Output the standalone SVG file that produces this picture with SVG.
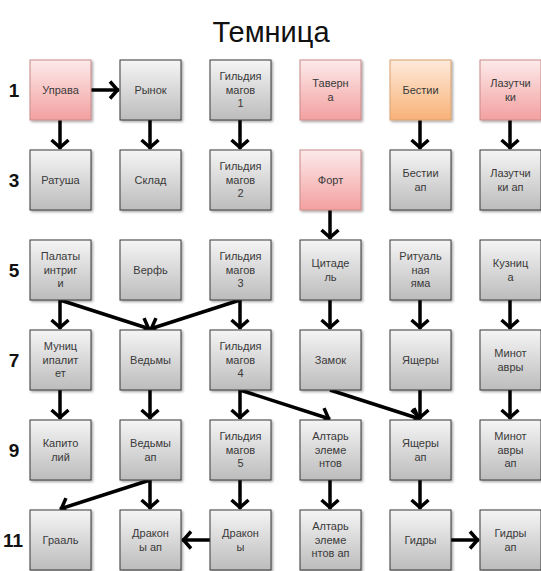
<svg xmlns="http://www.w3.org/2000/svg" width="541" height="571" viewBox="0 0 541 571">
<style>
.box{stroke-width:1}
.g{fill:url(#gGray);stroke:#3a3a3a}
.p{fill:url(#gPink);stroke:#c98a8a}
.o{fill:url(#gOrange);stroke:#d9a070}
.t{font-family:"Liberation Sans",Arial,sans-serif;font-size:11px;fill:#3a3a3a;text-anchor:middle}
.row{font-family:"Liberation Sans",Arial,sans-serif;font-size:19px;font-weight:bold;fill:#111;text-anchor:middle}
.title{font-family:"Liberation Sans",Arial,sans-serif;font-size:29px;fill:#111;text-anchor:middle}
.c line{stroke:#000;stroke-width:3.5;marker-end:url(#arr)}
</style>
<defs>
<linearGradient id="gGray" x1="0" y1="0" x2="0" y2="1"><stop offset="0" stop-color="#f5f5f5"/><stop offset="1" stop-color="#bcbcbc"/></linearGradient>
<linearGradient id="gPink" x1="0" y1="0" x2="0" y2="1"><stop offset="0" stop-color="#fdeaea"/><stop offset="1" stop-color="#f3a0a0"/></linearGradient>
<linearGradient id="gOrange" x1="0" y1="0" x2="0" y2="1"><stop offset="0" stop-color="#feeadb"/><stop offset="1" stop-color="#f8b277"/></linearGradient>
<filter id="sh" x="-10%" y="-10%" width="130%" height="130%"><feDropShadow dx="1.5" dy="1.5" stdDeviation="1.2" flood-color="#000" flood-opacity="0.35"/></filter>
<marker id="arr" viewBox="-11 -10 13 20" refX="0" refY="0" markerWidth="13" markerHeight="20" markerUnits="userSpaceOnUse" orient="auto">
<path d="M -9 -8.5 L -1.5 0 L -9 8.5" fill="none" stroke="#000" stroke-width="3.5"/>
</marker>
</defs>
<rect width="541" height="571" fill="#fff"/>
<text class="title" x="271" y="42">Темница</text>
<g id="rows">
<text class="row" x="14" y="97">1</text>
<text class="row" x="14" y="187">3</text>
<text class="row" x="14" y="277">5</text>
<text class="row" x="14" y="367">7</text>
<text class="row" x="14" y="457">9</text>
<text class="row" x="13" y="547">11</text>
</g>
<g class="c" id="connectors">
<line x1="91" y1="90" x2="119" y2="90"/>
<line x1="60" y1="120" x2="60" y2="149"/>
<line x1="150" y1="120" x2="150" y2="149"/>
<line x1="240" y1="120" x2="240" y2="149"/>
<line x1="420" y1="120" x2="420" y2="149"/>
<line x1="510" y1="120" x2="510" y2="149"/>
<line x1="330" y1="210" x2="330" y2="239"/>
<line x1="60" y1="300" x2="60" y2="329"/>
<line x1="60" y1="300" x2="150" y2="329"/>
<line x1="240" y1="300" x2="150" y2="329"/>
<line x1="240" y1="300" x2="240" y2="329"/>
<line x1="330" y1="300" x2="330" y2="329"/>
<line x1="420" y1="300" x2="420" y2="329"/>
<line x1="510" y1="300" x2="510" y2="329"/>
<line x1="60" y1="390" x2="60" y2="419"/>
<line x1="150" y1="390" x2="150" y2="419"/>
<line x1="240" y1="390" x2="240" y2="419"/>
<line x1="240" y1="390" x2="330" y2="419"/>
<line x1="330" y1="390" x2="420" y2="419"/>
<line x1="420" y1="390" x2="420" y2="419"/>
<line x1="510" y1="390" x2="510" y2="419"/>
<line x1="150" y1="480" x2="60" y2="509"/>
<line x1="150" y1="480" x2="150" y2="509"/>
<line x1="240" y1="480" x2="240" y2="509"/>
<line x1="210" y1="540" x2="182" y2="540"/>
<line x1="330" y1="480" x2="330" y2="509"/>
<line x1="420" y1="480" x2="420" y2="509"/>
<line x1="451" y1="540" x2="479" y2="540"/>
</g>
<g id="n_uprava"><rect class="box p" filter="url(#sh)" x="30" y="60" width="61" height="60"/><text class="t" x="60.5" y="94">Управа</text></g>
<g id="n_rynok"><rect class="box g" filter="url(#sh)" x="120" y="60" width="61" height="60"/><text class="t" x="150.5" y="94">Рынок</text></g>
<g id="n_gm1"><rect class="box g" filter="url(#sh)" x="210" y="60" width="61" height="60"/><text class="t" x="240.5" y="80">Гильдия</text><text class="t" x="240.5" y="94">магов</text><text class="t" x="240.5" y="107">1</text></g>
<g id="n_taverna"><rect class="box p" filter="url(#sh)" x="300" y="60" width="61" height="60"/><text class="t" x="330.5" y="87">Таверн</text><text class="t" x="330.5" y="101">а</text></g>
<g id="n_bestii"><rect class="box o" filter="url(#sh)" x="390" y="60" width="61" height="60"/><text class="t" x="420.5" y="94">Бестии</text></g>
<g id="n_lazutchiki"><rect class="box p" filter="url(#sh)" x="480" y="60" width="61" height="60"/><text class="t" x="510.5" y="87">Лазутчи</text><text class="t" x="510.5" y="101">ки</text></g>

<g id="n_ratusha"><rect class="box g" filter="url(#sh)" x="30" y="150" width="61" height="60"/><text class="t" x="60.5" y="184">Ратуша</text></g>
<g id="n_sklad"><rect class="box g" filter="url(#sh)" x="120" y="150" width="61" height="60"/><text class="t" x="150.5" y="184">Склад</text></g>
<g id="n_gm2"><rect class="box g" filter="url(#sh)" x="210" y="150" width="61" height="60"/><text class="t" x="240.5" y="170">Гильдия</text><text class="t" x="240.5" y="184">магов</text><text class="t" x="240.5" y="197">2</text></g>
<g id="n_fort"><rect class="box p" filter="url(#sh)" x="300" y="150" width="61" height="60"/><text class="t" x="330.5" y="184">Форт</text></g>
<g id="n_bestii_ap"><rect class="box g" filter="url(#sh)" x="390" y="150" width="61" height="60"/><text class="t" x="420.5" y="177">Бестии</text><text class="t" x="420.5" y="191">ап</text></g>
<g id="n_lazutchiki_ap"><rect class="box g" filter="url(#sh)" x="480" y="150" width="61" height="60"/><text class="t" x="510.5" y="177">Лазутчи</text><text class="t" x="510.5" y="191">ки ап</text></g>

<g id="n_palaty"><rect class="box g" filter="url(#sh)" x="30" y="240" width="61" height="60"/><text class="t" x="60.5" y="260">Палаты</text><text class="t" x="60.5" y="274">интриг</text><text class="t" x="60.5" y="287">и</text></g>
<g id="n_verf"><rect class="box g" filter="url(#sh)" x="120" y="240" width="61" height="60"/><text class="t" x="150.5" y="274">Верфь</text></g>
<g id="n_gm3"><rect class="box g" filter="url(#sh)" x="210" y="240" width="61" height="60"/><text class="t" x="240.5" y="260">Гильдия</text><text class="t" x="240.5" y="274">магов</text><text class="t" x="240.5" y="287">3</text></g>
<g id="n_citadel"><rect class="box g" filter="url(#sh)" x="300" y="240" width="61" height="60"/><text class="t" x="330.5" y="267">Цитаде</text><text class="t" x="330.5" y="281">ль</text></g>
<g id="n_yama"><rect class="box g" filter="url(#sh)" x="390" y="240" width="61" height="60"/><text class="t" x="420.5" y="260">Ритуаль</text><text class="t" x="420.5" y="274">ная</text><text class="t" x="420.5" y="287">яма</text></g>
<g id="n_kuznica"><rect class="box g" filter="url(#sh)" x="480" y="240" width="61" height="60"/><text class="t" x="510.5" y="267">Кузниц</text><text class="t" x="510.5" y="281">а</text></g>

<g id="n_municipalitet"><rect class="box g" filter="url(#sh)" x="30" y="330" width="61" height="60"/><text class="t" x="60.5" y="350">Муниц</text><text class="t" x="60.5" y="364">ипалит</text><text class="t" x="60.5" y="377">ет</text></g>
<g id="n_vedmy"><rect class="box g" filter="url(#sh)" x="120" y="330" width="61" height="60"/><text class="t" x="150.5" y="364">Ведьмы</text></g>
<g id="n_gm4"><rect class="box g" filter="url(#sh)" x="210" y="330" width="61" height="60"/><text class="t" x="240.5" y="350">Гильдия</text><text class="t" x="240.5" y="364">магов</text><text class="t" x="240.5" y="377">4</text></g>
<g id="n_zamok"><rect class="box g" filter="url(#sh)" x="300" y="330" width="61" height="60"/><text class="t" x="330.5" y="364">Замок</text></g>
<g id="n_yashchery"><rect class="box g" filter="url(#sh)" x="390" y="330" width="61" height="60"/><text class="t" x="420.5" y="364">Ящеры</text></g>
<g id="n_minotavry"><rect class="box g" filter="url(#sh)" x="480" y="330" width="61" height="60"/><text class="t" x="510.5" y="357">Минот</text><text class="t" x="510.5" y="371">авры</text></g>

<g id="n_kapitoliy"><rect class="box g" filter="url(#sh)" x="30" y="420" width="61" height="60"/><text class="t" x="60.5" y="447">Капито</text><text class="t" x="60.5" y="461">лий</text></g>
<g id="n_vedmy_ap"><rect class="box g" filter="url(#sh)" x="120" y="420" width="61" height="60"/><text class="t" x="150.5" y="447">Ведьмы</text><text class="t" x="150.5" y="461">ап</text></g>
<g id="n_gm5"><rect class="box g" filter="url(#sh)" x="210" y="420" width="61" height="60"/><text class="t" x="240.5" y="440">Гильдия</text><text class="t" x="240.5" y="454">магов</text><text class="t" x="240.5" y="467">5</text></g>
<g id="n_altar"><rect class="box g" filter="url(#sh)" x="300" y="420" width="61" height="60"/><text class="t" x="330.5" y="440">Алтарь</text><text class="t" x="330.5" y="454">элеме</text><text class="t" x="330.5" y="467">нтов</text></g>
<g id="n_yashchery_ap"><rect class="box g" filter="url(#sh)" x="390" y="420" width="61" height="60"/><text class="t" x="420.5" y="447">Ящеры</text><text class="t" x="420.5" y="461">ап</text></g>
<g id="n_minotavry_ap"><rect class="box g" filter="url(#sh)" x="480" y="420" width="61" height="60"/><text class="t" x="510.5" y="440">Минот</text><text class="t" x="510.5" y="454">авры</text><text class="t" x="510.5" y="467">ап</text></g>

<g id="n_graal"><rect class="box g" filter="url(#sh)" x="30" y="510" width="61" height="60"/><text class="t" x="60.5" y="544">Грааль</text></g>
<g id="n_drakony_ap"><rect class="box g" filter="url(#sh)" x="120" y="510" width="61" height="60"/><text class="t" x="150.5" y="537">Дракон</text><text class="t" x="150.5" y="551">ы ап</text></g>
<g id="n_drakony"><rect class="box g" filter="url(#sh)" x="210" y="510" width="61" height="60"/><text class="t" x="240.5" y="537">Дракон</text><text class="t" x="240.5" y="551">ы</text></g>
<g id="n_altar_ap"><rect class="box g" filter="url(#sh)" x="300" y="510" width="61" height="60"/><text class="t" x="330.5" y="530">Алтарь</text><text class="t" x="330.5" y="544">элеме</text><text class="t" x="330.5" y="557">нтов ап</text></g>
<g id="n_gidry"><rect class="box g" filter="url(#sh)" x="390" y="510" width="61" height="60"/><text class="t" x="420.5" y="544">Гидры</text></g>
<g id="n_gidry_ap"><rect class="box g" filter="url(#sh)" x="480" y="510" width="61" height="60"/><text class="t" x="510.5" y="537">Гидры</text><text class="t" x="510.5" y="551">ап</text></g>
</svg>
